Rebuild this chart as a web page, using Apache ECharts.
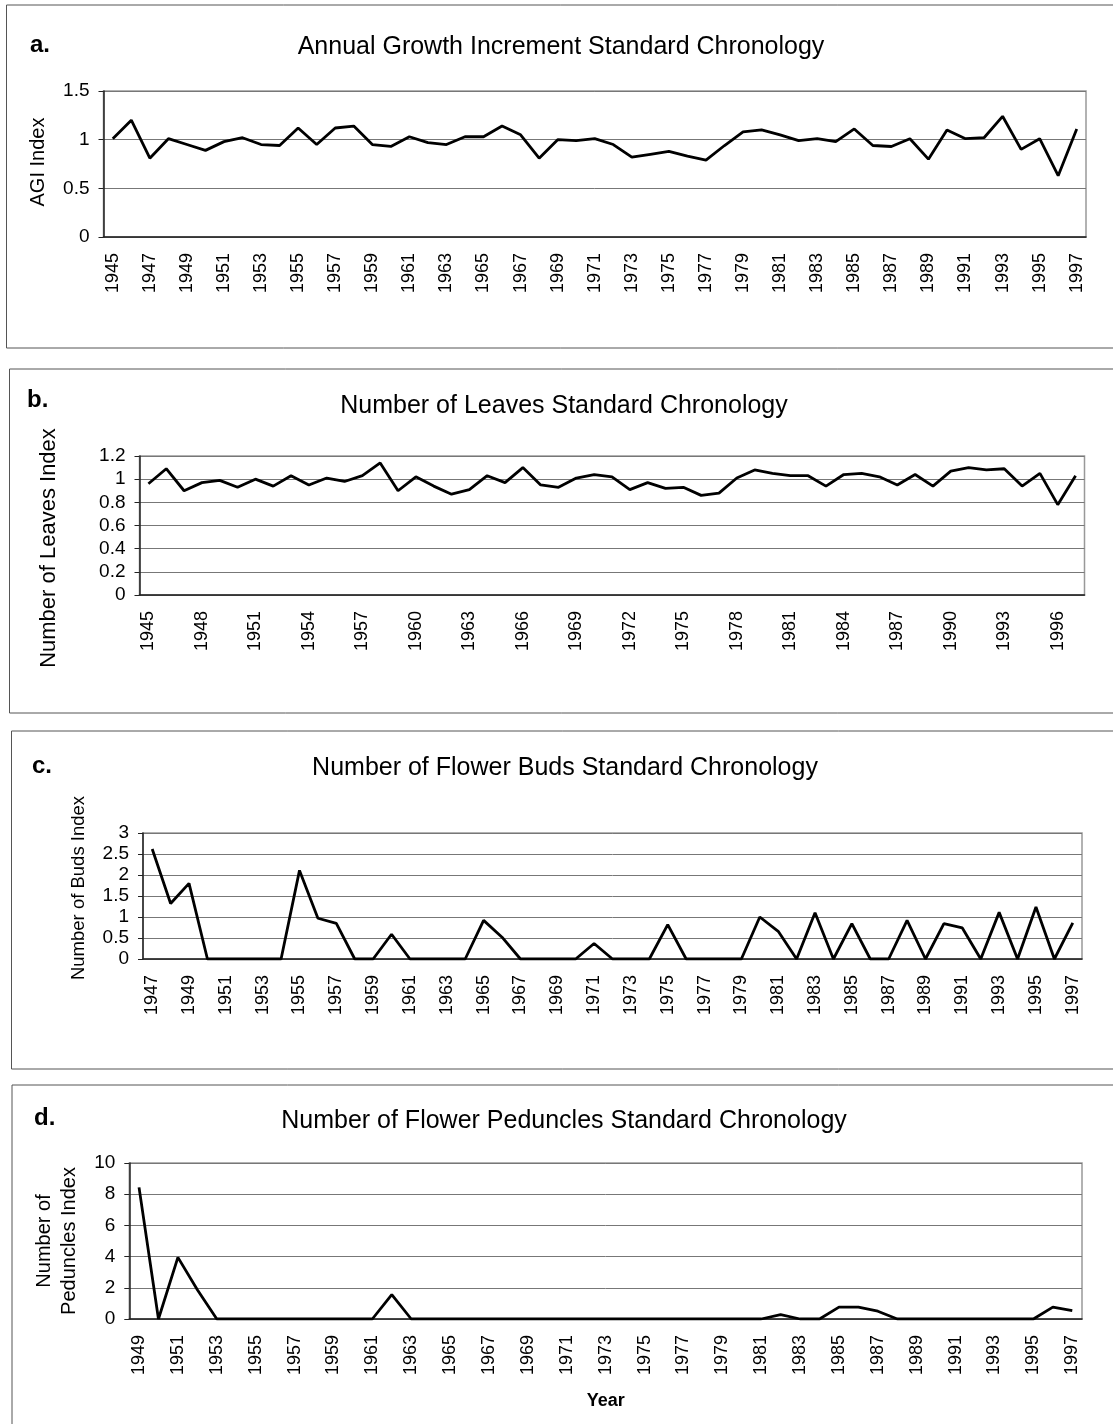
<!DOCTYPE html>
<html>
<head>
<meta charset="utf-8">
<script src="https://cdn.jsdelivr.net/npm/echarts/dist/echarts.min.js"></script>
<style>html,body{margin:0;padding:0;background:#fff;}#c{width:1113px;height:1424px;}</style>
</head>
<body>
<div id="c"></div>
<script>
// ---- Data ----
var yearsA = [1945,1946,1947,1948,1949,1950,1951,1952,1953,1954,1955,1956,1957,1958,1959,1960,1961,1962,1963,1964,1965,1966,1967,1968,1969,1970,1971,1972,1973,1974,1975,1976,1977,1978,1979,1980,1981,1982,1983,1984,1985,1986,1987,1988,1989,1990,1991,1992,1993,1994,1995,1996,1997];
var agiIndex = [1.01,1.20,0.81,1.01,0.95,0.89,0.98,1.02,0.95,0.94,1.12,0.95,1.12,1.14,0.95,0.93,1.03,0.97,0.95,1.03,1.03,1.14,1.05,0.81,1.00,0.99,1.01,0.95,0.82,0.85,0.88,0.83,0.79,0.94,1.08,1.10,1.05,0.99,1.01,0.98,1.11,0.94,0.93,1.01,0.80,1.10,1.01,1.02,1.24,0.90,1.01,0.63,1.11];

var yearsB = [1945,1946,1947,1948,1949,1950,1951,1952,1953,1954,1955,1956,1957,1958,1959,1960,1961,1962,1963,1964,1965,1966,1967,1968,1969,1970,1971,1972,1973,1974,1975,1976,1977,1978,1979,1980,1981,1982,1983,1984,1985,1986,1987,1988,1989,1990,1991,1992,1993,1994,1995,1996,1997];
var leavesIndex = [0.96,1.09,0.90,0.97,0.99,0.93,1.00,0.94,1.03,0.95,1.01,0.98,1.03,1.14,0.90,1.02,0.94,0.87,0.91,1.03,0.97,1.10,0.95,0.93,1.01,1.04,1.02,0.91,0.97,0.92,0.93,0.86,0.88,1.01,1.08,1.05,1.03,1.03,0.94,1.04,1.05,1.02,0.95,1.04,0.94,1.07,1.10,1.08,1.09,0.94,1.05,0.78,1.03];

var yearsC = [1947,1948,1949,1950,1951,1952,1953,1954,1955,1956,1957,1958,1959,1960,1961,1962,1963,1964,1965,1966,1967,1968,1969,1970,1971,1972,1973,1974,1975,1976,1977,1978,1979,1980,1981,1982,1983,1984,1985,1986,1987,1988,1989,1990,1991,1992,1993,1994,1995,1996,1997];
var budsIndex = [2.62,1.32,1.80,0,0,0,0,0,2.11,0.97,0.85,0,0,0.59,0,0,0,0,0.92,0.52,0,0,0,0,0.37,0,0,0,0.82,0,0,0,0,1.00,0.66,0,1.10,0,0.84,0,0,0.92,0,0.84,0.74,0,1.11,0,1.24,0,0.86];

var yearsD = [1949,1950,1951,1952,1953,1954,1955,1956,1957,1958,1959,1960,1961,1962,1963,1964,1965,1966,1967,1968,1969,1970,1971,1972,1973,1974,1975,1976,1977,1978,1979,1980,1981,1982,1983,1984,1985,1986,1987,1988,1989,1990,1991,1992,1993,1994,1995,1996,1997];
var pedunclesIndex = [8.44,0,3.95,1.88,0,0,0,0,0,0,0,0,0,1.56,0,0,0,0,0,0,0,0,0,0,0,0,0,0,0,0,0,0,0,0.28,0,0,0.76,0.76,0.50,0,0,0,0,0,0,0,0,0.76,0.54];

var panelTitles = ['Annual Growth Increment Standard Chronology','Number of Leaves Standard Chronology','Number of Flower Buds Standard Chronology','Number of Flower Peduncles Standard Chronology'];
var panelLetters = ['a.','b.','c.','d.'];
var yNames = ['AGI Index','Number of Leaves Index','Number of Buds Index','Number of\nPeduncles Index'];
var yRanges = [[0,1.5,0.5],[0,1.2,0.2],[0,3,0.5],[0,10,2]];
var xLabelSkip = [1,2,1,1];

// ---- Layout ----
var FONT = '"Liberation Sans", Arial, sans-serif';
var grids = [
  {left:103.5, top:91, width:982.5, height:146},
  {left:139.5, top:456, width:945, height:139},
  {left:143, top:833, width:939, height:126},
  {left:129.3, top:1163, width:952.7, height:156}
];
var cats = [yearsA, yearsB, yearsC, yearsD];
var vals = [agiIndex, leavesIndex, budsIndex, pedunclesIndex];

var panelRects = [[6.5,5,1120,343],[9.5,369,1120,344],[11.5,731,1120,338],[12,1085,1120,400]];
var letterPos = [[30,45],[27,400],[32,766],[34,1118]];
var titlePos = [[561,47],[564,406],[565,768],[564,1121]];
var namePos = [[38.5,162,20],[49,548,22],[78.5,888,18.5],[56.5,1241,20]];

var option = {
  backgroundColor:'#fff',
  animation:false,
  grid: grids.map(function(g){return {left:g.left, top:g.top, width:g.width, height:g.height, show:true, borderColor:'#999', borderWidth:1.5, backgroundColor:'transparent'};}),
  xAxis: cats.map(function(c,i){
    var ax = {
      type:'category', gridIndex:i, data:c.map(String), boundaryGap:true,
      axisLine:{show:true, lineStyle:{color:'#222', width:1.5}},
      axisTick:{show:false},
      axisLabel:{rotate:90, interval:xLabelSkip[i], margin:16, fontSize:18, color:'#000', fontFamily:FONT},
      splitLine:{show:false}
    };
    if(i===3){
      ax.name='Year'; ax.nameLocation='middle'; ax.nameGap=73;
      ax.nameTextStyle={fontSize:18, fontWeight:'bold', color:'#000', fontFamily:FONT};
    }
    return ax;
  }),
  yAxis: yRanges.map(function(r,i){
    return {
      type:'value', gridIndex:i, min:r[0], max:r[1], interval:r[2],
      axisLine:{show:true, lineStyle:{color:'#222', width:1.5}},
      axisTick:{show:true, length:5, lineStyle:{color:'#222'}},
      axisLabel:{margin:14, fontSize:19, color:'#000', fontFamily:FONT},
      splitLine:{show:true, lineStyle:{color:'#777', width:1}}
    };
  }),
  series: vals.map(function(v,i){
    return {type:'line', xAxisIndex:i, yAxisIndex:i, data:v, symbol:'none', smooth:false,
      lineStyle:{color:'#000', width:2.8}, z:5};
  }),
  graphic: []
};

for (var i=0;i<4;i++){
  var pr = panelRects[i];
  option.graphic.push({type:'rect', silent:true, z:-1, shape:{x:pr[0], y:pr[1], width:pr[2], height:pr[3]}, style:{fill:'none', stroke:'#555', lineWidth:1}});
  option.graphic.push({type:'text', x:letterPos[i][0], y:letterPos[i][1], style:{text:panelLetters[i], font:'bold 24px '+FONT, fill:'#000', textAlign:'left', textVerticalAlign:'middle'}});
  option.graphic.push({type:'text', x:titlePos[i][0], y:titlePos[i][1], style:{text:panelTitles[i], font:'25px '+FONT, fill:'#000', textAlign:'center', textVerticalAlign:'middle'}});
  option.graphic.push({type:'text', x:namePos[i][0], y:namePos[i][1], rotation:Math.PI/2, style:{text:yNames[i], font:namePos[i][2]+'px '+FONT, lineHeight:25, fill:'#000', textAlign:'center', textVerticalAlign:'middle'}});
}

var chart = echarts.init(document.getElementById('c'), null, {renderer:'canvas'});
chart.setOption(option);
</script>
</body>
</html>
